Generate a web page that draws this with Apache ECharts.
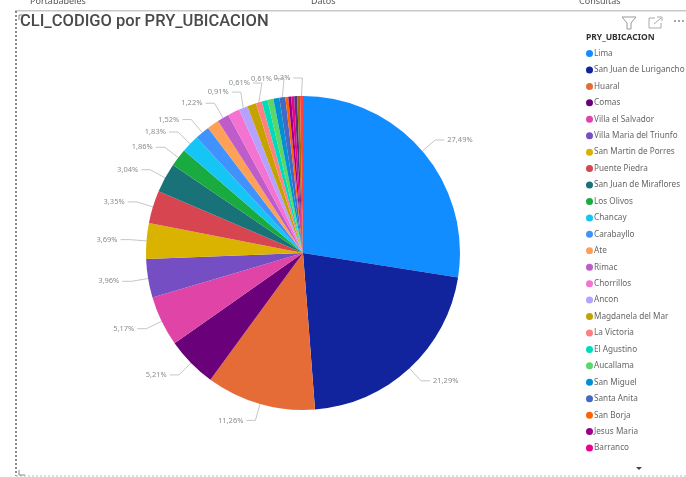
<!DOCTYPE html>
<html><head><meta charset="utf-8">
<style>html,body{margin:0;padding:0;background:#fff}#c{width:686px;height:477px}</style>
<script src="https://cdn.jsdelivr.net/npm/echarts@6/dist/echarts.min.js"></script>
</head><body><div id="c"></div>
<script>
const categories=['Lima','San Juan de Lurigancho','Huaral','Comas','Villa el Salvador','Villa Maria del Triunfo','San Martin de Porres','Puente Piedra','San Juan de Miraflores','Los Olivos','Chancay','Carabayllo','Ate','Rimac','Chorrillos','Ancon','Magdanela del Mar','La Victoria','El Agustino','Aucallama','San Miguel','Santa Anita','San Borja','Jesus Maria','Barranco','Otro 1','Otro 2','Otro 3'];
const values=[27.49,21.29,11.26,5.21,5.17,3.96,3.69,3.35,3.04,1.86,1.83,1.52,1.22,1.22,1.22,0.91,0.91,0.61,0.61,0.61,0.61,0.61,0.3,0.3,0.3,0.3,0.3,0.3];
const colors=['#118DFF','#12239E','#E66C37','#6B007B','#E044A7','#744EC2','#D9B300','#D64550','#197278','#1AAB40','#15C6F4','#4092FF','#FFA058','#BE5DC9','#F472D0','#B5A1FF','#C4A200','#FF8080','#00DBBC','#5BD667','#0091D5','#4668C5','#FF6300','#99008A','#EC008C','#533285','#99700A','#FF4141'];
const labelled=[0,1,2,3,4,5,6,7,8,9,10,11,13,15,17,21,27];
const legendCount=25;
const labelNudge={15:[4,0],17:[8,-3],21:[4,-2],27:[1,-1]};

const chart=echarts.init(document.getElementById('c'),null,{renderer:'canvas'});
const fmt=v=>v.toFixed(v<1&&Math.round(v*100)%10===0?1:2).replace('.',',')+'%';
const grey='#8a8f8f';
chart.setOption({
  animation:false,
  backgroundColor:'#fff',
  color:colors,
  title:[
    {text:'CLI_CODIGO por PRY_UBICACION',left:15,top:8,textStyle:{fontFamily:'Roboto',fontSize:16.5,fontWeight:500,color:'#4a4a4a'}},
    {text:'PRY_UBICACION',left:581,top:28,textStyle:{fontFamily:'Noto Sans',fontSize:8.5,fontWeight:'bold',color:'#333'}}
  ],
  legend:{
    orient:'vertical',left:586,top:47.5,icon:'circle',itemWidth:7,itemHeight:7,itemGap:4.44,
    padding:0,data:categories.slice(0,legendCount),selectedMode:false,
    textStyle:{fontFamily:'Noto Sans',fontSize:8.2,color:'#666',lineHeight:12,padding:[0,0,0,-4]}
  },
  series:[{
    type:'pie',center:[303,253],radius:[0,157],startAngle:90,clockwise:true,
    avoidLabelOverlap:false,minShowLabelAngle:0,
    labelLine:{show:true,length:17,length2:9,smooth:false,lineStyle:{color:'#c4c7c7',width:1}},
    label:{fontFamily:'Noto Sans',fontSize:7.5,color:grey,distanceToLabelLine:3},
    labelLayout:function(p){
      const n=labelNudge[p.dataIndex];
      if(!n||!p.labelLinePoints) return {hideOverlap:false};
      const q=p.labelLinePoints;
      return {hideOverlap:false,dx:n[0],dy:n[1],
        labelLinePoints:[q[0],[q[1][0]+n[0],q[1][1]+n[1]],[q[2][0]+n[0],q[2][1]+n[1]]]};
    },
    data:categories.map((n,i)=>({name:n,value:values[i],
      label:{show:labelled.includes(i),formatter:fmt(values[i])},
      labelLine:{show:labelled.includes(i)}}))
  }],
  graphic:[
    {type:'text',left:30,top:-3,z:5,style:{text:'Portapapeles',fontFamily:'Noto Sans',fontSize:9,fill:'#555'}},
    {type:'text',left:311,top:-3,z:5,style:{text:'Datos',fontFamily:'Noto Sans',fontSize:9,fill:'#555'}},
    {type:'text',left:579,top:-3,z:5,style:{text:'Consultas',fontFamily:'Noto Sans',fontSize:9,fill:'#555'}},
    {type:'rect',z:6,shape:{x:0,y:4,width:686,height:6},style:{fill:'#fff'}},
    {type:'rect',z:6,shape:{x:15,y:10,width:671,height:1.5},style:{fill:'#c8c8c8'}},
    {type:'line',z:6,shape:{x1:16,y1:11,x2:16,y2:476},style:{stroke:'#666',lineWidth:1.5,lineDash:[2,2]}},
    {type:'line',z:6,shape:{x1:16,y1:476,x2:686,y2:476},style:{stroke:'#bbb',lineWidth:1,lineDash:[2,2]}},
    {type:'polyline',z:6,shape:{points:[[19,20],[19,15],[25,15]]},style:{stroke:'#888',fill:null,lineWidth:1}},
    {type:'polyline',z:6,shape:{points:[[19,470],[19,475],[25,475]]},style:{stroke:'#888',fill:null,lineWidth:1}},
    {type:'polygon',z:6,shape:{points:[[622,17],[636,17],[631,23],[631,29],[627,29],[627,23]]},style:{stroke:'#999',fill:null,lineWidth:1}},
    {type:'polyline',z:6,shape:{points:[[655,18],[649,18],[649,28],[661,28],[661,23]]},style:{stroke:'#aaa',fill:null,lineWidth:1}},
    {type:'polyline',z:6,shape:{points:[[657,17],[662,17],[662,21]]},style:{stroke:'#aaa',fill:null,lineWidth:1}},
    {type:'line',z:6,shape:{x1:654,y1:24,x2:661,y2:18},style:{stroke:'#aaa',lineWidth:1}},
    {type:'circle',z:6,shape:{cx:675,cy:21,r:1},style:{fill:'#888'}},
    {type:'circle',z:6,shape:{cx:679,cy:21,r:1},style:{fill:'#888'}},
    {type:'circle',z:6,shape:{cx:683,cy:21,r:1},style:{fill:'#888'}},
    {type:'polygon',z:6,shape:{points:[[636,467],[642,467],[639,470]]},style:{fill:'#444'}}
  ]
});
</script></body></html>
